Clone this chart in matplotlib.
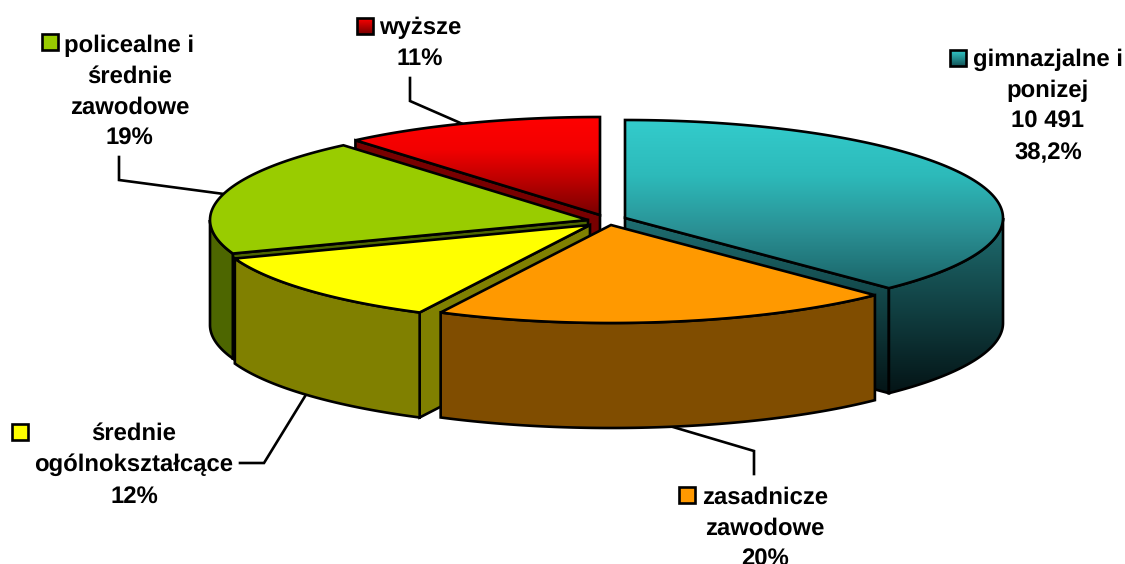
import numpy as np
import matplotlib
matplotlib.use('Agg')
import matplotlib.pyplot as plt
from matplotlib.colors import LinearSegmentedColormap
from matplotlib.patches import Polygon

plt.rcParams['font.family'] = ['Liberation Sans', 'DejaVu Sans']
plt.rcParams['text.hinting'] = 'no_hinting'

# shares (the labels show the rounded ones)
categories = ['gimnazjalne', 'zasadnicze', 'srednie_ogolne', 'policealne', 'wyzsze']
shares = [37.7, 19.74, 12.0, 19.36, 11.2]
labels = ['gimnazjalne i\nponizej\n10 491\n38,2%',
          'zasadnicze\nzawodowe\n20%',
          'średnie\nogólnokształcące\n12%',
          'policealne i\nśrednie\nzawodowe\n19%',
          'wyższe\n11%']

# colours: top face, side face (tuple = vertical gradient)
top_colors = [('#33CCCC', '#2DBABA', '#2A8F93', '#1A6468'), '#FF9900', '#FFFF00', '#99CC00',
              ('#FF0000', '#F20000', '#B80000', '#780000')]
side_colors = [('#1F6F72', '#041416'), '#804D00', '#808000', '#4D6600', '#780000']
key_colors = [('#33CCCC', '#145458'), '#FF9900', '#FFFF00', '#99CC00', ('#FF0000', '#780000')]

# layout in pixels
W, H = 1125, 564
rx, ry, depth = 378, 98, 105
apexes = [(625, 218), (611, 225), (590, 225), (588, 220), (600, 215)]
label_pos = [(1048, 106.5), (765, 528.5), (134, 465), (129.5, 92), (420, 43.5)]
key_pos = [(950, 50), (679, 487), (12, 424), (42, 34), (357, 18)]
leaders = [None,
           [(673, 427), (754, 451), (754, 474)],
           [(240, 463), (264, 463), (307, 393)],
           [(119, 157), (119, 180), (224, 194)],
           [(410, 78), (410, 101), (465, 125)]]

fig = plt.figure(figsize=(W / 100, H / 100), dpi=100)
ax = fig.add_axes([0, 0, 1, 1])
ax.set_xlim(0, W)
ax.set_ylim(H, 0)
ax.axis('off')

z = [10]


def arc(ax0, ay0, a0, a1):
    th = np.radians(np.linspace(a0, a1, 120))
    return np.column_stack([ax0 + rx * np.sin(th), ay0 - ry * np.cos(th)])


def face(xy, color, lw=1.9):
    """One closed face, flat or with a vertical gradient, black outline."""
    z[0] += 1
    if isinstance(color, tuple):
        poly = Polygon(xy, closed=True, fc='none', ec='k', lw=lw, joinstyle='miter', zorder=z[0] + 0.5)
        ax.add_patch(poly)
        cmap = LinearSegmentedColormap.from_list('g', color)
        grad = np.linspace(0, 1, 256).reshape(-1, 1)
        x0, y0 = xy.min(axis=0)
        x1, y1 = xy.max(axis=0)
        im = ax.imshow(grad, cmap=cmap, extent=(x0, x1, y1, y0), aspect='auto', zorder=z[0])
        im.set_clip_path(poly)
    else:
        ax.add_patch(Polygon(xy, closed=True, fc=color, ec='k', lw=lw, joinstyle='miter', zorder=z[0]))


angles = np.concatenate([[0], np.cumsum(shares) / np.sum(shares) * 360])

# back to front: red, teal, green, yellow, orange
for i in [4, 0, 3, 2, 1]:
    a0, a1 = angles[i], angles[i + 1]
    ax0, ay0 = apexes[i]
    apex = np.array([ax0, ay0], dtype=float)
    down = np.array([0, depth])
    # cut faces that look towards the viewer
    for a, seen in ((a0, np.sin(np.radians(a0)) < -1e-6), (a1, np.sin(np.radians(a1)) > 1e-6)):
        if seen:
            p = arc(ax0, ay0, a, a)[0]
            face(np.array([apex, p, p + down, apex + down]), side_colors[i])
    # outer wall, front half only
    lo, hi = max(a0, 90), min(a1, 270)
    if lo < hi:
        rim = arc(ax0, ay0, lo, hi)
        face(np.vstack([rim, (rim + down)[::-1]]), side_colors[i])
    face(np.vstack([apex, arc(ax0, ay0, a0, a1)]), top_colors[i])

for i in range(len(categories)):
    if leaders[i]:
        xs, ys = zip(*leaders[i])
        ax.plot(xs, ys, color='k', lw=1.9, zorder=2, solid_joinstyle='miter')
    ax.text(label_pos[i][0], label_pos[i][1], labels[i], ha='center', va='center',
            multialignment='center', fontsize=17.2, fontweight='bold', color='k',
            linespacing=1.49, zorder=200)
    kx, ky = key_pos[i]
    face(np.array([(kx, ky), (kx + 16, ky), (kx + 16, ky + 16), (kx, ky + 16)], dtype=float),
         key_colors[i])

ax.set_xlim(0, W)
ax.set_ylim(H, 0)
fig.savefig('out.png', dpi=100)
